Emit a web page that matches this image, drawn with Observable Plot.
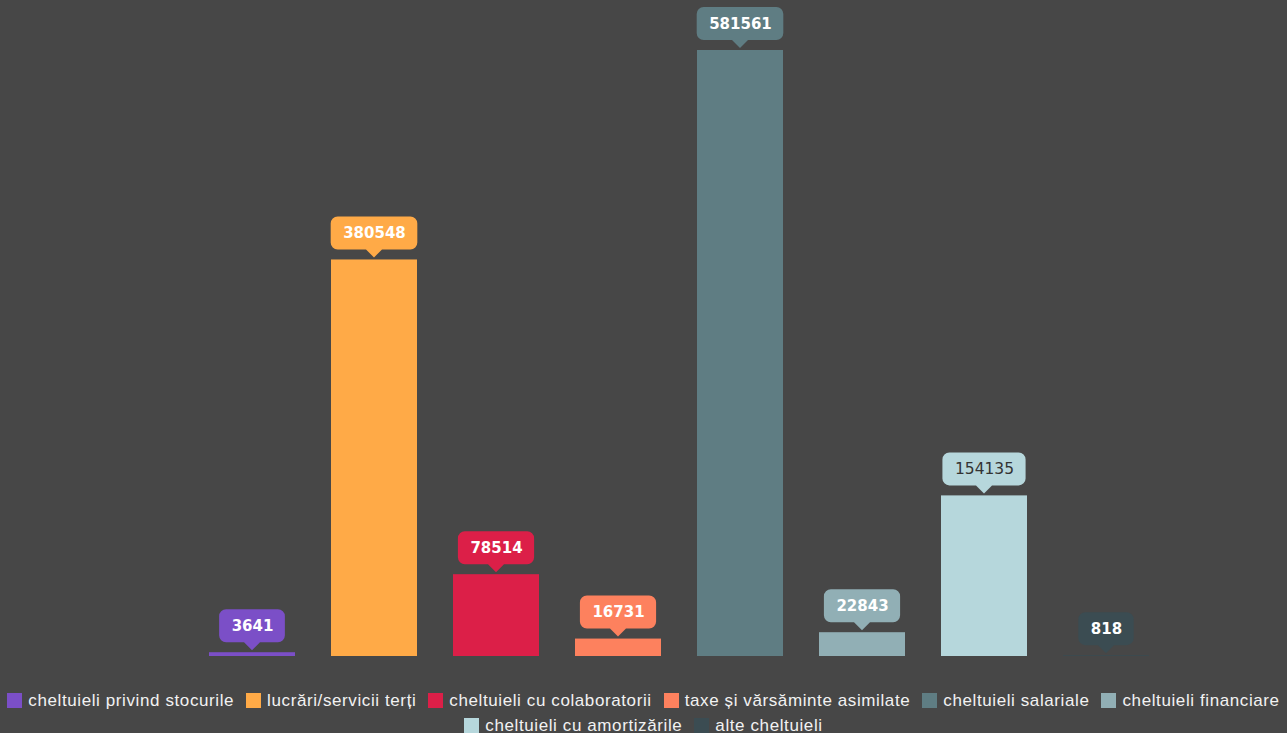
<!DOCTYPE html>
<html><head><meta charset="utf-8">
<script src="https://cdn.jsdelivr.net/npm/d3@7"></script>
<script src="https://cdn.jsdelivr.net/npm/@observablehq/plot@0.6"></script>
<style>
html,body{margin:0;padding:0;background:#474747;width:1287px;overflow:hidden;}
#chart{width:1287px;}
#chart svg{display:block;}
.legend{font-family:"Liberation Sans",Arial,sans-serif;font-size:17px;color:#f2f2f2;letter-spacing:0.6px;margin-top:8px;}
.row{display:flex;justify-content:center;white-space:nowrap;height:25px;align-items:center;}
.item{display:flex;align-items:center;margin:0 6px;}
.sw{width:15px;height:15px;margin-right:6px;flex:none;}
</style></head><body>
<div id="chart"></div>
<div class="legend" id="legend"></div>
<script>
const categories = [
  "cheltuieli privind stocurile",
  "lucrări/servicii terți",
  "cheltuieli cu colaboratorii",
  "taxe și vărsăminte asimilate",
  "cheltuieli salariale",
  "cheltuieli financiare",
  "cheltuieli cu amortizările",
  "alte cheltuieli"
];
const values = [3641, 380548, 78514, 16731, 581561, 22843, 154135, 818];
const colors = ["#7b4fc7", "#ffaa47", "#dc1f48", "#fd815e", "#5f7d83", "#91afb5", "#b6d7dc", "#3b4c52"];
const darkLabelCategories = ["cheltuieli cu amortizările"];
const legendRows = [6, 2];

const data = categories.map((c, i) => ({c, v: values[i]}));
const isDark = d => darkLabelCategories.includes(d.c);

const labelOpts = {x: "c", y: "v", text: d => String(d.v), dy: -26.5, fontSize: 15, fontWeight: "bold", fontFamily: "DejaVu Sans", lineAnchor: "middle"};

const plot = Plot.plot({
  width: 1287, height: 680,
  marginTop: 50, marginBottom: 24, marginLeft: 191, marginRight: 120,
  style: {background: "#474747", overflow: "visible"},
  x: {domain: categories, paddingInner: 0.295, paddingOuter: 0.1475, axis: null},
  y: {domain: [0, d3.max(values)], axis: null},
  color: {domain: categories, range: colors},
  marks: [
    Plot.barY(data, {x: "c", y: "v", fill: "c"}),
    Plot.text(data.filter(d => !isDark(d)), {...labelOpts, fill: "#ffffff"}),
    Plot.text(data.filter(isDark), {...labelOpts, fill: "#333333", fontWeight: "normal", fontSize: 15.5})
  ]
});
document.getElementById("chart").appendChild(plot);

// callout boxes behind the labels
const xs = plot.scale("x"), ys = plot.scale("y");
const textGroups = plot.querySelectorAll('g[aria-label="text"]');
const calloutG = document.createElementNS("http://www.w3.org/2000/svg", "g");
textGroups[0].parentNode.insertBefore(calloutG, textGroups[0]);
textGroups.forEach(g => g.querySelectorAll("text").forEach(t => {
  const v = Number(t.textContent);
  const i = values.indexOf(v);
  const w = t.getBoundingClientRect().width;
  const cx = xs.apply(categories[i]) + xs.bandwidth / 2;
  const top = ys.apply(v);
  const pad = 12, r = 7, hh = 16.5, tri = 8;
  const x0 = cx - w / 2 - pad, x1 = cx + w / 2 + pad;
  const y1 = top - 10, y0 = y1 - 2 * hh;
  const p = d3.path();
  p.moveTo(x0 + r, y0);
  p.lineTo(x1 - r, y0); p.arcTo(x1, y0, x1, y0 + r, r);
  p.lineTo(x1, y1 - r); p.arcTo(x1, y1, x1 - r, y1, r);
  p.lineTo(cx + tri, y1); p.lineTo(cx, y1 + tri); p.lineTo(cx - tri, y1);
  p.lineTo(x0 + r, y1); p.arcTo(x0, y1, x0, y1 - r, r);
  p.lineTo(x0, y0 + r); p.arcTo(x0, y0, x0 + r, y0, r);
  p.closePath();
  const path = document.createElementNS("http://www.w3.org/2000/svg", "path");
  path.setAttribute("d", p.toString());
  path.setAttribute("fill", colors[i]);
  calloutG.appendChild(path);
}));

// legend
const legend = document.getElementById("legend");
let k = 0;
legendRows.forEach(n => {
  const row = document.createElement("div");
  row.className = "row";
  for (let j = 0; j < n; j++, k++) {
    const item = document.createElement("div");
    item.className = "item";
    const sw = document.createElement("span");
    sw.className = "sw";
    sw.style.background = colors[k];
    const lab = document.createElement("span");
    lab.textContent = categories[k];
    item.appendChild(sw); item.appendChild(lab);
    row.appendChild(item);
  }
  legend.appendChild(row);
});
</script>
</body></html>
